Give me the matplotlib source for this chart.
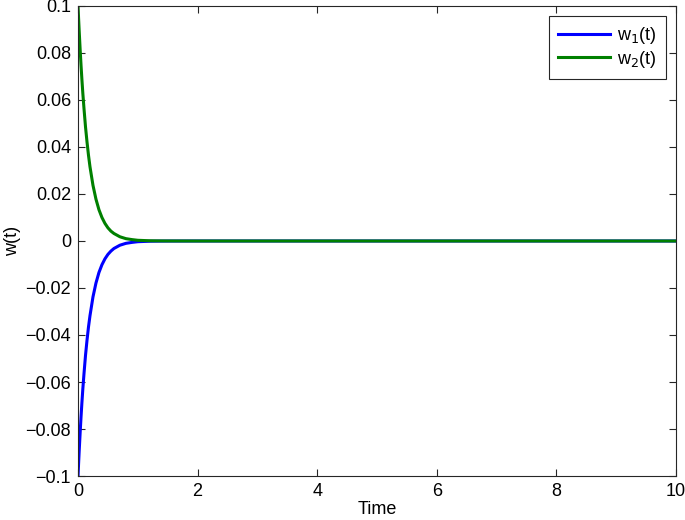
import matplotlib
matplotlib.use("Agg")
import matplotlib.pyplot as plt

plt.rcParams['font.family'] = ['Liberation Sans', 'DejaVu Sans']

# Data
t = [0, 0.01, 0.02, 0.035, 0.05, 0.065, 0.08, 0.1, 0.125, 0.15, 0.175, 0.2,
     0.25, 0.3, 0.35, 0.4, 0.45, 0.5, 0.55, 0.6, 0.7, 0.8, 0.9,
     1.0, 1.1, 1.2, 1.35, 1.5, 2, 3, 4, 5, 6, 7, 8, 9, 10]
w1 = [-0.1, -0.0944, -0.0891, -0.0818, -0.0750, -0.0688, -0.0631, -0.0564,
      -0.0487, -0.0423, -0.0366, -0.0318, -0.0238, -0.0179, -0.0134, -0.0101,
      -0.0076, -0.0057, -0.0043, -0.0032, -0.0018, -0.0010, -0.0006,
      -0.0003, -0.0002, -0.0001, -0.00005, -0.00002,
      0, 0, 0, 0, 0, 0, 0, 0, 0]
w2 = [0.1, 0.0944, 0.0891, 0.0817, 0.0749, 0.0687, 0.0630, 0.0563,
      0.0486, 0.0422, 0.0365, 0.0316, 0.0237, 0.0178, 0.0133, 0.0100,
      0.0075, 0.0056, 0.0042, 0.0032, 0.0018, 0.0010, 0.0006,
      0.0003, 0.0002, 0.0001, 0.00005, 0.00002,
      0, 0, 0, 0, 0, 0, 0, 0, 0]

xticks = [0, 2, 4, 6, 8, 10]
yticks = [-0.1, -0.08, -0.06, -0.04, -0.02, 0, 0.02, 0.04, 0.06, 0.08, 0.1]
ytick_labels = ['\u22120.1', '\u22120.08', '\u22120.06', '\u22120.04', '\u22120.02',
                '0', '0.02', '0.04', '0.06', '0.08', '0.1']

fig = plt.figure(figsize=(6.85, 5.2), dpi=100)
ax = fig.add_axes([0.1139, 0.0846, 0.8730, 0.9039])

ax.plot(t, w1, color=(0, 0, 1), lw=2.2, label='w$_1$(t)')
ax.plot(t, w2, color=(0, 0.5, 0), lw=2.2, label='w$_2$(t)')

ax.set_xlim(0, 10)
ax.set_ylim(-0.1, 0.1)
ax.set_xticks(xticks)
ax.set_xticklabels([str(v) for v in xticks])
ax.set_yticks(yticks)
ax.set_yticklabels(ytick_labels)
ax.tick_params(direction='in', top=True, right=True, labelsize=13,
               length=5, width=0.8, colors='#262626', pad=5)
for lab in ax.get_xticklabels() + ax.get_yticklabels():
    lab.set_color('black')
for s in ax.spines.values():
    s.set_color('#262626')
    s.set_linewidth(0.8)

ax.set_xlabel('Time', fontsize=13, labelpad=1)
ax.set_ylabel('w(t)', fontsize=13, labelpad=3)

leg = ax.legend(loc='upper right', fontsize=13, handlelength=2.9,
                fancybox=False, framealpha=1, edgecolor='#262626',
                borderaxespad=0.55, labelspacing=0.15, handletextpad=0.4,
                borderpad=0.5)
leg.get_frame().set_linewidth(0.8)

fig.savefig('out.png', dpi=100)
